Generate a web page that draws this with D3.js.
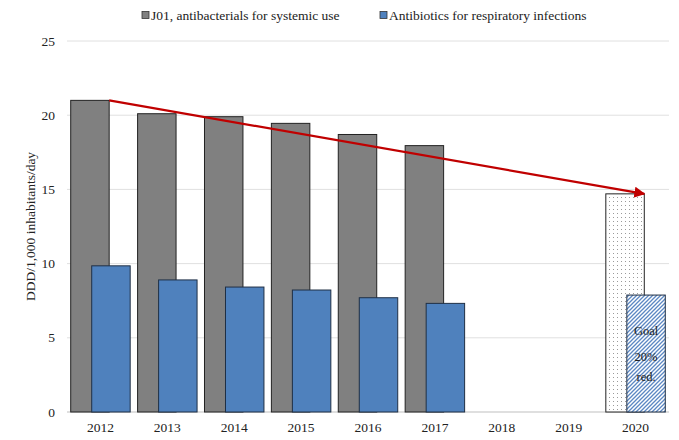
<!DOCTYPE html>
<html><head><meta charset="utf-8">
<script src="https://cdn.jsdelivr.net/npm/d3@7"></script>
<style>body{margin:0;background:#fff}svg{display:block;font-family:"Liberation Serif","Times New Roman",serif}</style>
</head><body><svg id="c" width="679" height="440"></svg>
<script>
const years = ["2012","2013","2014","2015","2016","2017","2018","2019","2020"];
const j01 = [21.0,20.1,19.9,19.45,18.7,17.95,null,null,14.7];
const resp = [9.85,8.9,8.42,8.22,7.7,7.32,null,null,7.88];
const yTicks = [0,5,10,15,20,25];
const seriesNames = ["J01, antibacterials for systemic use","Antibiotics for respiratory infections"];
const goalText = ["Goal","20%","red."];

const svg = d3.select("#c");
const x = d3.scaleBand().domain(years).range([67,669]).padding(0);
const y = d3.scaleLinear().domain([0,25]).range([412,41]);
const bw = x.bandwidth();
const barW = bw*0.575, off = bw*0.157;

const defs = svg.append("defs");
const dots = defs.append("pattern").attr("id","dots").attr("patternUnits","userSpaceOnUse").attr("width",4).attr("height",4);
dots.append("rect").attr("width",4).attr("height",4).attr("fill","#fff");
dots.append("rect").attr("x",1).attr("y",1).attr("width",1).attr("height",1).attr("fill","#9a9a9a");
const hatch = defs.append("pattern").attr("id","hatch").attr("patternUnits","userSpaceOnUse").attr("width",4).attr("height",4);
hatch.append("rect").attr("width",4).attr("height",4).attr("fill","#ffffff");
hatch.append("path").attr("d","M-1,1 l2,-2 M0,4 l4,-4 M3,5 l2,-2").attr("stroke","#5b87c3").attr("stroke-width",1.3);

// gridlines
svg.append("g").selectAll("line").data(yTicks).join("line")
  .attr("x1",67).attr("x2",669).attr("y1",d=>y(d)).attr("y2",d=>y(d))
  .attr("stroke",d=>d===0?"#bfbfbf":"#e0e0e0").attr("stroke-width",1);

// y ticks
svg.append("g").selectAll("text").data(yTicks).join("text")
  .attr("x",55).attr("y",d=>y(d)+4.5).attr("text-anchor","end")
  .attr("font-size",13.5).attr("fill","#222").text(d=>d);
// x labels
svg.append("g").selectAll("text").data(years).join("text")
  .attr("x",d=>x(d)+bw/2).attr("y",432).attr("text-anchor","middle")
  .attr("font-size",13.5).attr("fill","#222").text(d=>d);

svg.append("text").attr("transform",`translate(35,${(y(0)+y(25))/2}) rotate(-90)`)
  .attr("text-anchor","middle").attr("font-size",13.5).attr("fill","#222").text("DDD/1,000 inhabitants/day");

const last = years.length-1;
// gray bars
svg.append("g").selectAll("rect").data(years.map((d,i)=>({d,v:j01[i],i})).filter(o=>o.v!=null)).join("rect")
  .attr("x",o=>x(o.d)+bw/2-off-barW/2).attr("width",barW)
  .attr("y",o=>y(o.v)).attr("height",o=>y(0)-y(o.v))
  .attr("fill",o=>o.i===last?"url(#dots)":"#808080").attr("stroke","#222").attr("stroke-width",1);
// blue bars
svg.append("g").selectAll("rect").data(years.map((d,i)=>({d,v:resp[i],i})).filter(o=>o.v!=null)).join("rect")
  .attr("x",o=>x(o.d)+bw/2+off-barW/2).attr("width",barW)
  .attr("y",o=>y(o.v)).attr("height",o=>y(0)-y(o.v))
  .attr("fill",o=>o.i===last?"url(#hatch)":"#4f81bd").attr("stroke","#1f2f45").attr("stroke-width",1);

// goal text
const gx = x("2020")+bw/2+off;
svg.append("g").selectAll("text").data(goalText).join("text")
  .attr("x",gx).attr("y",(d,i)=>[335,361,381][i]).attr("text-anchor","middle")
  .attr("font-size",12.5).attr("fill","#222").text(d=>d);

// arrow
defs.append("marker").attr("id","arr").attr("viewBox","0 0 10 10").attr("refX",9).attr("refY",5)
  .attr("markerWidth",5).attr("markerHeight",5).attr("orient","auto")
  .append("path").attr("d","M0,0 L10,5 L0,10 z").attr("fill","#c00000");
svg.append("line")
  .attr("x1",x("2012")+bw/2-off+barW/2).attr("y1",y(j01[0]))
  .attr("x2",x("2020")+bw/2-off+barW/2).attr("y2",y(j01[last]))
  .attr("stroke","#c00000").attr("stroke-width",2.2).attr("marker-end","url(#arr)");

// legend
const lg = svg.append("g");
const legX = [142,380], cols = ["#808080","#4f81bd"];
seriesNames.forEach((n,i)=>{
  lg.append("rect").attr("x",legX[i]).attr("y",11.5).attr("width",7).attr("height",7)
    .attr("fill",cols[i]).attr("stroke","#333").attr("stroke-width",0.8);
  lg.append("text").attr("x",legX[i]+9).attr("y",19.5).attr("font-size",13.5).attr("fill","#222").text(n);
});
</script></body></html>
